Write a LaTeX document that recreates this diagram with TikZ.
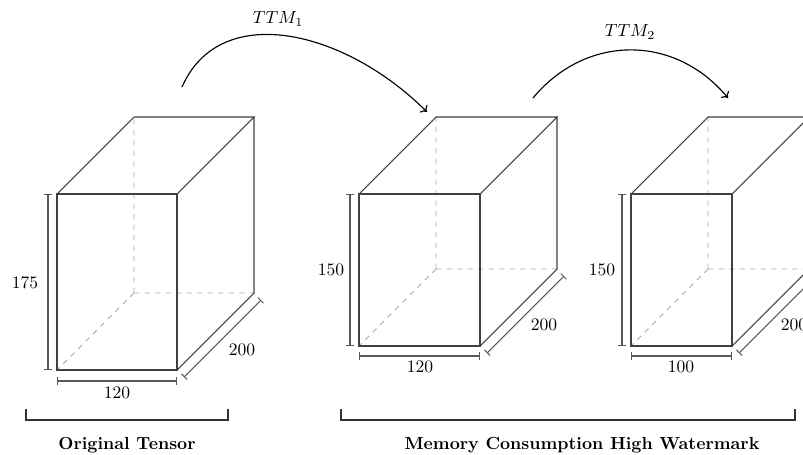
\documentclass[tikz,border=0pt]{standalone}
\usetikzlibrary{calc,arrows.meta}
\newcommand\mycube[5]{%
  \coordinate (#1fbl) at (#2,#3);
  \coordinate (#1fbr) at (#2+#4,#3);
  \coordinate (#1ftl) at (#2,#3-#5);
  \coordinate (#1ftr) at (#2+#4,#3-#5);
  \coordinate (#1bbl) at (#2+77,#3-77);
  \coordinate (#1bbr) at (#2+#4+77,#3-77);
  \coordinate (#1btl) at (#2+77,#3-#5-77);
  \coordinate (#1btr) at (#2+#4+77,#3-#5-77);
  \draw[hidden] (#1bbl) -- (#1btl) (#1bbl) -- (#1bbr) (#1bbl) -- (#1fbl);
  \draw[edge] (#1fbl) rectangle (#1ftr);
  \draw[edge] (#1ftl) -- (#1btl) -- (#1btr) -- (#1ftr) (#1fbr) -- (#1bbr) -- (#1btr);
}
\begin{document}
\begin{tikzpicture}[x=0.57pt,y=-0.57pt,
  edge/.style={draw=black!75,line width=0.6pt},
  hidden/.style={draw=black!35,dashed,line width=0.55pt},
  dim/.style={draw=black!65,line width=0.6pt,{Bar[width=4.5pt]}-{Bar[width=4.5pt]}},
  lbl/.style={inner sep=0pt},
  flow/.style={draw=black,line width=0.65pt,-{To[length=3pt,width=6pt]}},
  brace/.style={draw=black!80,line width=0.65pt},
  caption/.style={font=\bfseries,inner sep=0pt}]
\useasboundingbox (0,0) rectangle (803,454);

% cubes
\mycube{a}{57}{370}{120}{176}
\mycube{b}{359}{346}{121}{152}
\mycube{c}{631}{346}{101}{152}

% dimension lines
\draw[dim] ($(afbl)+(-9,0)$) -- ($(aftl)+(-9,0)$);
\draw[dim] ($(afbl)+(0,11)$) -- ($(afbr)+(0,11)$);
\draw[dim] ($(afbr)+(7,7)$) -- ($(abbr)+(7,7)$);
\draw[dim] ($(bfbl)+(-9,0)$) -- ($(bftl)+(-9,0)$);
\draw[dim] ($(bfbl)+(0,10)$) -- ($(bfbr)+(0,10)$);
\draw[dim] ($(bfbr)+(7,7)$) -- ($(bbbr)+(7,7)$);
\draw[dim] ($(cfbl)+(-9,0)$) -- ($(cftl)+(-9,0)$);
\draw[dim] ($(cfbl)+(0,10)$) -- ($(cfbr)+(0,10)$);
\draw[dim] ($(cfbr)+(7,7)$) -- ($(cbbr)+(7,7)$);

% dimension labels
\node[lbl] (ah) at (25,283) {175};
\node[lbl] (aw) at (117,393) {120};
\node[lbl] (ad) at (242,350) {200};
\node[lbl] (bh) at (331,270) {150};
\node[lbl] (bw) at (420,367) {120};
\node[lbl] (bd) at (544,325) {200};
\node[lbl] (ch) at (602,270) {150};
\node[lbl] (cw) at (681,367) {100};
\node[lbl] (cd) at (794,325) {200};

% TTM arrows
\coordinate (s1) at (182,87);
\coordinate (e1) at (427,112);
\draw[flow] (s1) .. controls (220,0) and (345,30) .. (e1);
\node[lbl] (t1) at (278,19) {$TTM_1$};
\coordinate (s2) at (533,98);
\coordinate (e2) at (728,98);
\draw[flow] (s2) .. controls (586,34) and (675,34) .. (e2);
\node[lbl] (t2) at (630,32) {$TTM_2$};

% brackets and captions
\draw[brace] (26,409) -- (26,420) -- (228,420) -- (228,409);
\draw[brace] (341,409) -- (341,420) -- (795,420) -- (795,409);
\node[caption] (cap1) at (127,445) {Original Tensor};
\node[caption] (cap2) at (582,445) {Memory Consumption High Watermark};
\end{tikzpicture}
\end{document}
